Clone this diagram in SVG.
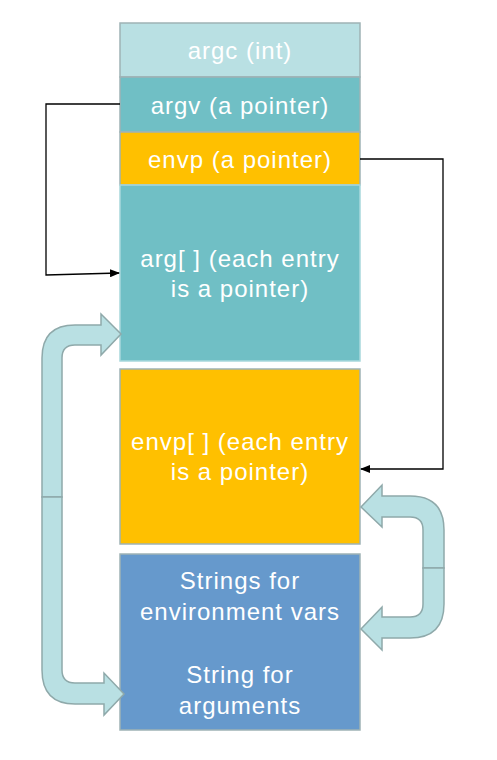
<svg xmlns="http://www.w3.org/2000/svg" width="497" height="760" viewBox="0 0 497 760">
<defs>
<style>
.lbl{font-family:"Liberation Sans",Arial,sans-serif;font-size:24px;fill:#ffffff;text-anchor:middle;letter-spacing:1px}
.box{stroke:#9fb3b5;stroke-width:1.5}
.conn{fill:none;stroke:#000;stroke-width:1.3}
.bend{fill:#b9e0e3;stroke:#8fa9aa;stroke-width:1.5}
</style>
<marker id="ah" markerWidth="10" markerHeight="8" refX="9" refY="4" orient="auto" markerUnits="userSpaceOnUse">
<path d="M0,0 L10,4 L0,8 Z" fill="#000"/>
</marker>
</defs>
<rect width="497" height="760" fill="#fff"/>
<g id="argc"><rect class="box" x="120" y="23" width="240" height="54" fill="#b9e0e3"/><text class="lbl" x="240" y="59">argc (int)</text></g>
<g id="argv"><rect class="box" x="120" y="77" width="240" height="55" fill="#70bfc5"/><text class="lbl" x="240" y="114">argv (a pointer)</text></g>
<g id="envp"><rect class="box" x="120" y="132" width="240" height="53" fill="#ffc000"/><text class="lbl" x="240" y="168">envp (a pointer)</text></g>
<g id="argarr"><rect x="120" y="185" width="240" height="176" fill="#70bfc5" stroke="#a8d8dc" stroke-width="1.5"/><text class="lbl" x="240" y="267">arg[ ] (each entry</text><text class="lbl" x="240" y="297">is a pointer)</text></g>
<g id="envparr"><rect class="box" x="120" y="369" width="240" height="175" fill="#ffc000"/><text class="lbl" x="240" y="450">envp[ ] (each entry</text><text class="lbl" x="240" y="480">is a pointer)</text></g>
<g id="strings"><rect class="box" x="120" y="554" width="240" height="176" fill="#6699cc"/><text class="lbl" x="240" y="589">Strings for</text><text class="lbl" x="240" y="620">environment vars</text><text class="lbl" x="240" y="683">String for</text><text class="lbl" x="240" y="714">arguments</text></g>
<g id="connectors">
<path class="conn" d="M120,104 H46 V275 L119,273" marker-end="url(#ah)"/>
<path class="conn" d="M360,159 H443 V469 H361" marker-end="url(#ah)"/>
<path class="bend" d="M62,497 V358 Q62,345 75,345 H101 V355 L121,334 L101,314 V325 H75 Q42,325 42,358 V497 Z"/>
<path class="bend" d="M62,497 V670 Q62,683 75,683 H104 V673 L124,694 L104,715 V704 H75 Q42,704 42,670 V497 Z"/>
<path class="bend" d="M423,568 V530 Q423,517 410,517 H382 V527 L361,507 L382,485 V496 H410 Q444,496 444,530 V568 Z"/>
<path class="bend" d="M423,568 V604 Q423,617 410,617 H382 V607 L361,629 L382,650 V638 H410 Q444,638 444,604 V568 Z"/>
</g>
</svg>
